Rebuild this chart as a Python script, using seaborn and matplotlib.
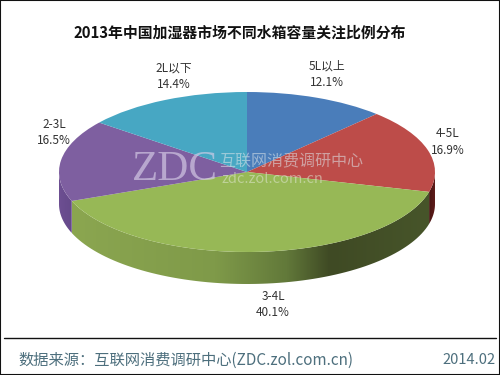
import matplotlib
matplotlib.use('Agg')
import matplotlib.pyplot as plt
from matplotlib.colors import LinearSegmentedColormap
from matplotlib.patches import Polygon
import numpy as np
import seaborn as sns

categorias = ['5L以上', '4-5L', '3-4L', '2-3L', '2L以下']
valores = [12.1, 16.9, 40.1, 16.5, 14.4]
cores = ['#4a7dba', '#bd4c49', '#97b856', '#7e5fa0', '#47a7c3']
titulo = '2013年中国加湿器市场不同水箱容量关注比例分布'
fonte = '数据来源：互联网消费调研中心(ZDC.zol.com.cn)'
data_txt = '2014.02'

sns.set_theme(style='white')
plt.rcParams['font.family'] = ['Noto Sans CJK SC', 'DejaVu Sans']

W, H = 500, 375
CX, CY, RX, RY, DEPTH = 247, 172, 188, 80, 32

fig = plt.figure(figsize=(W / 100, H / 100), dpi=100, facecolor='white')
ax = fig.add_axes([0, 0, 1, 1])

# pizza em coordenadas unitarias, achatada pelos limites do eixo
ax.pie(valores, colors=sns.color_palette(cores), startangle=90, counterclock=False,
       radius=1, center=(0, 0), wedgeprops={'linewidth': 0})
ax.set_aspect('auto')
ax.axis('off')

# parede lateral: so a metade da frente aparece (degrade da esquerda para a direita)
d = DEPTH / RY
bordas = np.concatenate([[0], np.cumsum(valores)]) / sum(valores) * 360
rampas = {
    1: [(0, '#4a1513'), (1, '#5e1c1a')],
    2: [(0, '#8ba650'), (0.4, '#7f9a49'), (0.6, '#62793a'), (0.72, '#3f4a24'), (1, '#47552a')],
    3: [(0, '#6d4f92'), (1, '#65498a')],
}
for i, stops in rampas.items():
    a0 = max(bordas[i], 90)
    a1 = min(bordas[i + 1], 270)
    t = np.radians(np.linspace(a0, a1, 80))
    xs, ys = np.sin(t), np.cos(t)
    pts = np.column_stack([np.r_[xs, xs[::-1]], np.r_[ys, ys[::-1] - d]])
    clip = Polygon(pts, closed=True, transform=ax.transData, fc='none', ec='none')
    ax.add_patch(clip)
    grad = np.linspace(0, 1, 256).reshape(1, -1)
    cmap = LinearSegmentedColormap.from_list('lado', stops)
    im = ax.imshow(grad, extent=[xs.min(), xs.max(), ys.min() - d, ys.max()],
                   cmap=cmap, aspect='auto', zorder=0.5)
    im.set_clip_path(clip)
ax.set_xlim((0 - CX) / RX, (W - CX) / RX)
ax.set_ylim((CY - H) / RY, CY / RY)

def texto(x, y, s, **kw):
    return fig.text(x / W, 1 - y / H, s, ha=kw.pop('ha', 'center'), va='center', **kw)

texto(240, 33, titulo, fontsize=10.7, fontweight='bold', color='#111111')

pos_rotulos = [(327, 74), (448, 142), (273, 305), (54, 133), (174, 76)]
for (x, y), nome, v in zip(pos_rotulos, categorias, valores):
    texto(x, y - 8, nome, fontsize=8.5, color='#333333')
    texto(x, y + 8, f'{v:.1f}%', fontsize=8.5, color='#333333')

# marca d'agua
texto(175, 170, 'ZDC', fontsize=31, family='Liberation Serif', color='#d8cfe8', alpha=0.65)
texto(291, 162, '互联网消费调研中心', fontsize=11.5, color='#dfe6ea', alpha=0.55)
texto(221, 179, 'zdc.zol.com.cn', fontsize=10.5, ha='left', color='#dfe6d0', alpha=0.55)

# rodape e moldura
fig.add_artist(plt.Line2D([4 / W, 496 / W], [1 - 338 / H] * 2, color='#111111', lw=1))
texto(18, 360, fonte, fontsize=11, ha='left', color='#4d6f7d')
texto(442, 360, data_txt, fontsize=10.5, ha='left', color='#4d6f7d')
fig.add_artist(plt.Rectangle((0, 0), 1, 1, transform=fig.transFigure, fill=False,
                             ec='#111111', lw=1.5))

fig.savefig('out.png', dpi=100)
